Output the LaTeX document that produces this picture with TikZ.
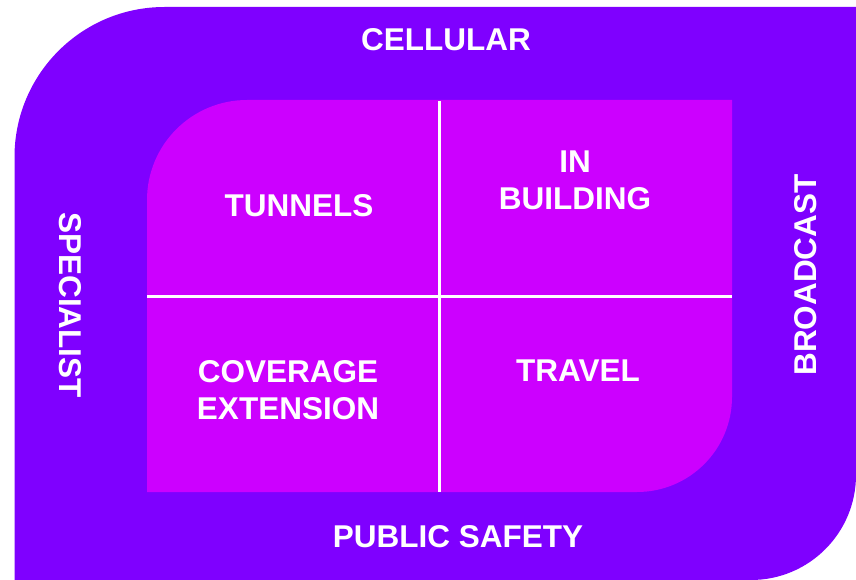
\documentclass[tikz,border=0pt]{standalone}
\usepackage{fontspec}
\setmainfont{Liberation Sans}
\usepackage{color}
\definecolor{outerpurple}{HTML}{7F00FF}
\definecolor{innermagenta}{HTML}{CC00FF}

\begin{document}
\begin{tikzpicture}[x=1pt,y=-1pt,thick,
    label node/.style={text=white,align=center,inner sep=0pt,font=\fontsize{31.5}{37}\selectfont\bfseries},
    divider/.style={draw=white,line width=3pt}]
    \useasboundingbox (0,0) rectangle (856,580);
    % outer band
    \fill[outerpurple] (14.5,580) [rounded corners=150pt] -- (14.5,7) [sharp corners] -- (856,7) [rounded corners=105pt] -- (856,580) [sharp corners] -- cycle;
    % inner field
    \fill[innermagenta] (147,492) [rounded corners=100pt] -- (147,100) [sharp corners] -- (732,100) [rounded corners=95pt] -- (732,492) [sharp corners] -- cycle;
    \coordinate (vtop) at (439,101);
    \coordinate (vbot) at (439,492);
    \coordinate (hleft) at (147,296);
    \coordinate (hright) at (732,296);
    \draw[divider] (vtop) -- (vbot);
    \draw[divider] (hleft) -- (hright);

    \node[label node] (cell) at (446,40) {CELLULAR};
    \node[label node] (pub) at (458,537) {PUBLIC SAFETY};
    \node[label node, rotate=-90] (spec) at (70,305) {SPECIALIST};
    \node[label node, rotate=90] (broad) at (806,275) {BROADCAST};
    \node[label node] (tun) at (299,206) {TUNNELS};
    \node[label node] (inb) at (575,180) {IN\\BUILDING};
    \node[label node] (cov) at (288,390) {COVERAGE\\EXTENSION};
    \node[label node] (trav) at (578,371) {TRAVEL};
\end{tikzpicture}
\end{document}
